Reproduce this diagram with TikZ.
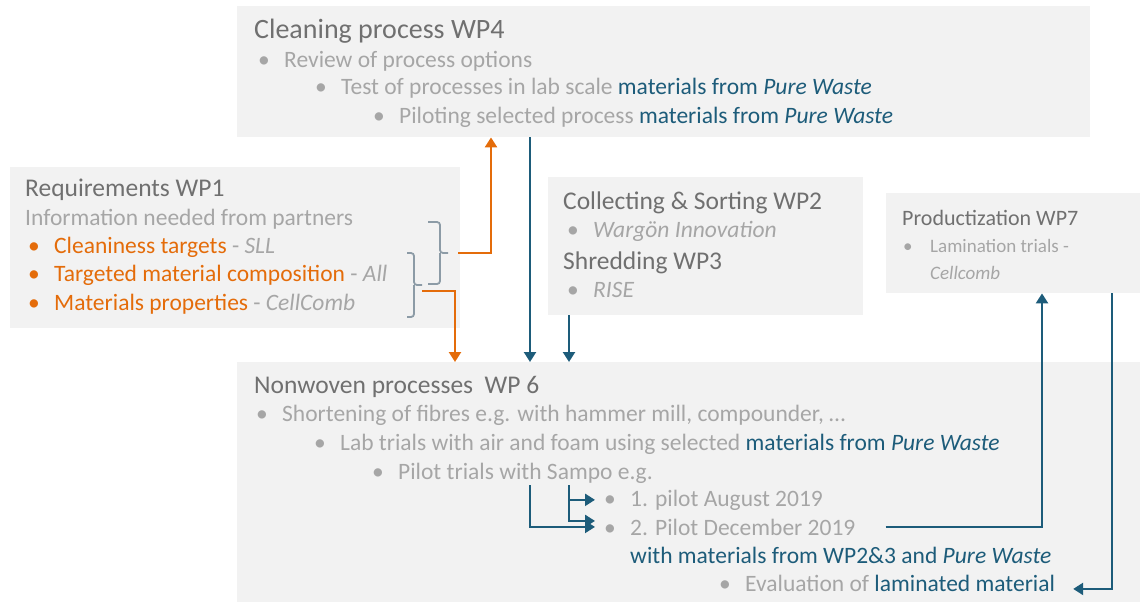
\documentclass[tikz,border=0pt]{standalone}
\usepackage{fontspec}
\setmainfont{Carlito}
\usepackage{tikz}
\usetikzlibrary{arrows.meta}
\definecolor{boxgray}{HTML}{F2F2F2}
\definecolor{headgray}{HTML}{707070}
\definecolor{txtgray}{HTML}{A6A6A6}
\definecolor{wpblue}{HTML}{1D5C7A}
\definecolor{wporange}{HTML}{E46C0A}
\definecolor{bracegray}{HTML}{8C9BA6}
\newcommand{\bul}{\makebox[26pt][l]{\textbullet}}
\newcommand{\bluetxt}[1]{\textcolor{wpblue}{#1}}
\newcommand{\graytxt}[1]{\textcolor{txtgray}{#1}}

\begin{document}
\begin{tikzpicture}[x=1pt, y=-1pt,
  wpbox/.style={fill=boxgray, anchor=north west, inner sep=0pt},
  wphead/.style={anchor=base west, inner sep=0pt, text=headgray, font=\fontsize{25.5}{30}\selectfont},
  itemtxt/.style={anchor=base west, inner sep=0pt, text=txtgray, font=\fontsize{23.5}{28}\selectfont},
  barrow/.style={wpblue, line width=2.3pt, -{Triangle[width=12pt,length=10pt]}},
  oarrow/.style={wporange, line width=2.3pt, -{Triangle[width=12pt,length=10pt]}},
  brk/.style={bracegray, line width=1.8pt, rounded corners=3pt}]

  \useasboundingbox (0,0) rectangle (1140,602);

  % ---- boxes ----
  \node[wpbox, minimum width=853pt, minimum height=131pt] (clean) at (237,6) {};
  \node[wpbox, minimum width=450pt, minimum height=161pt] (req)   at (10,167) {};
  \node[wpbox, minimum width=315pt, minimum height=138pt] (coll)  at (548,177) {};
  \node[wpbox, minimum width=254pt, minimum height=100pt] (prod)  at (886,193) {};
  \node[wpbox, minimum width=903pt, minimum height=240pt] (nonw)  at (237,362) {};

  % ---- Cleaning process WP4 ----
  \node[wphead, font=\fontsize{28}{32}\selectfont] (cleanT) at (254,39) {Cleaning process WP4};
  \node[itemtxt] (clean1) at (258,67)  {\bul Review of process options};
  \node[itemtxt] (clean2) at (315,95)  {\bul Test of processes in lab scale \bluetxt{materials from \textit{Pure Waste}}};
  \node[itemtxt] (clean3) at (373,123) {\bul Piloting selected process \bluetxt{materials from \textit{Pure Waste}}};

  % ---- Requirements WP1 ----
  \node[wphead]  (reqT) at (25,196) {Requirements WP1};
  \node[itemtxt] (req0) at (25,225) {Information needed from partners};
  \node[itemtxt, text=wporange] (req1) at (28,253) {\bul Cleaniness targets \graytxt{- \textit{SLL}}};
  \node[itemtxt, text=wporange] (req2) at (28,281) {\bul Targeted material composition \graytxt{- \textit{All}}};
  \node[itemtxt, text=wporange] (req3) at (28,310) {\bul Materials properties \graytxt{- \textit{CellComb}}};
  % braces
  \draw[brk] (428,222) -- (440,222) -- (440,253) -- (448,253);
  \draw[brk] (440,253) -- (440,284) -- (428,284);
  \draw[brk] (407,253) -- (414,253) -- (414,285) -- (422,285);
  \draw[brk] (414,285) -- (414,317) -- (407,317);
  \coordinate (b1) at (458,253);
  \coordinate (b2) at (422,291);

  % ---- Collecting & Sorting WP2 / Shredding WP3 ----
  \node[wphead]  (collT)  at (563,209) {Collecting \& Sorting WP2};
  \node[itemtxt] (coll1)  at (567,237) {\bul \textit{Wargön Innovation}};
  \node[wphead]  (shredT) at (563,269) {Shredding WP3};
  \node[itemtxt] (shred1) at (567,297) {\bul \textit{RISE}};

  % ---- Productization WP7 ----
  \node[wphead, font=\fontsize{22}{26}\selectfont]  (prodT) at (902,225) {Productization WP7};
  \node[itemtxt, font=\fontsize{19}{23}\selectfont] (prod1) at (903,252) {\makebox[27pt][l]{\textbullet}Lamination trials -};
  \node[itemtxt, font=\fontsize{19}{23}\selectfont] (prod2) at (930,279) {\textit{Cellcomb}};

  % ---- Nonwoven processes WP 6 ----
  \node[wphead]  (nonwT) at (254,393) {Nonwoven processes\ \ WP 6};
  \node[itemtxt] (nonw1) at (256,421) {\bul Shortening of fibres e.g. with hammer mill, compounder, \dots};
  \node[itemtxt] (nonw2) at (314,450) {\bul Lab trials with air and foam using selected \bluetxt{materials from \textit{Pure Waste}}};
  \node[itemtxt] (nonw3) at (372,479) {\bul Pilot trials with Sampo e.g.};
  \node[itemtxt] (pil1)  at (604,506) {\bul 1. pilot August 2019};
  \node[itemtxt] (pil2)  at (604,535) {\bul 2. Pilot December 2019};
  \node[itemtxt, text=wpblue] (pil2b) at (630,563) {with materials from WP2\&3 and \textit{Pure Waste}};
  \node[itemtxt] (evalm) at (719,591) {\bul Evaluation of \bluetxt{laminated material}};

  % ---- connectors ----
  \coordinate (xa) at (530,0);
  \coordinate (xb) at (569,0);
  \coordinate (xc) at (1042,0);
  \coordinate (xd) at (1112,0);
  \draw[oarrow] (b1) -- ++(33,0) coordinate (k1) -- (k1 |- clean.south);
  \draw[oarrow] (b2) -- ++(33,0) coordinate (k2) -- (k2 |- nonw.north);
  \draw[barrow] (clean.south -| xa) -- (nonw.north -| xa);
  \draw[barrow] (coll.south -| xb) -- (nonw.north -| xb);
  % pilot branches
  \draw[barrow, shorten >=9pt] (530,485) |- (pil2.west);
  \draw[barrow, shorten >=9pt] (569,485) |- (pil1.west);
  \draw[barrow, shorten >=9pt] (569,496) |- ([yshift=6pt]pil2.west);
  % to and from WP7
  \draw[barrow] ([xshift=30pt]pil2.east) -| (prod.south -| xc);
  \draw[barrow, shorten >=18pt] (prod.south -| xd) |- ([yshift=-6pt]evalm.east);

\end{tikzpicture}
\end{document}
